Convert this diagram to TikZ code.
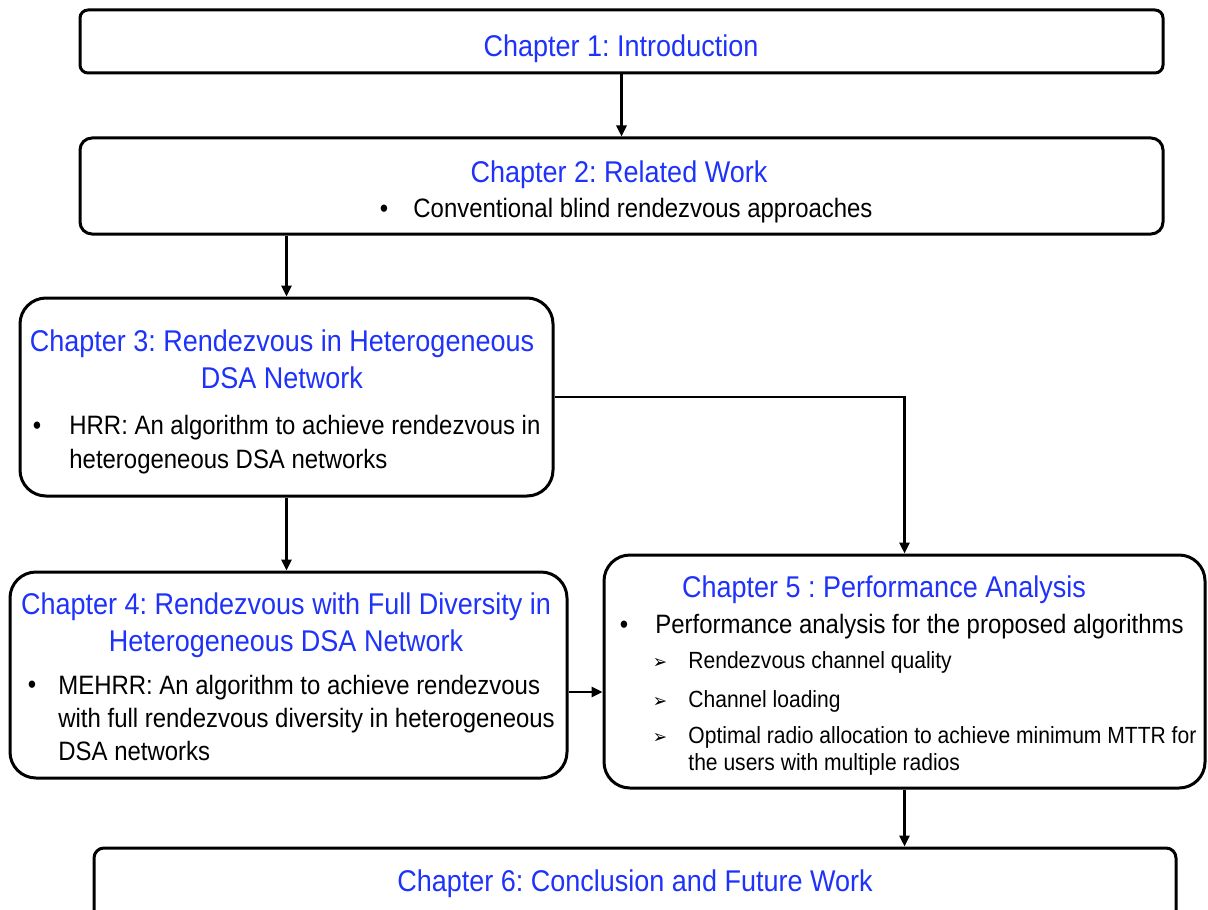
\documentclass[tikz,border=0pt]{standalone}
\usepackage{fontspec}
\setmainfont{Liberation Sans}[FakeStretch=0.9]
\newfontfamily\dingfont{DejaVu Sans}[FakeStretch=0.9]
\usetikzlibrary{arrows.meta}
\definecolor{chapblue}{RGB}{30,50,250}
\frenchspacing
\tikzset{
chapbox/.style={draw, line width=1.5pt, rounded corners=#1, inner sep=0pt},
chapbox/.default=13pt,
chaptitle/.style={text=chapblue, font=\fontsize{15pt}{18.5pt}\selectfont, align=center, inner sep=0pt, anchor=base},
bodytext/.style={font=\fontsize{13.3pt}{17pt}\selectfont, align=left, inner sep=0pt, anchor=base west},
subtext/.style={font=\fontsize{11.7pt}{13.5pt}\selectfont, align=left, inner sep=0pt, anchor=base west},
bulletmark/.style={font=\fontsize{13.3pt}{17pt}\selectfont, inner sep=0pt, anchor=base},
submark/.style={font=\dingfont\fontsize{9.5pt}{10pt}\selectfont, inner sep=0pt, anchor=base},
flow/.style={line width=1.3pt, -{Triangle[length=5.5pt,width=5pt]}}}

\begin{document}
\begin{tikzpicture}[x=0.5pt, y=-0.5pt]
    \useasboundingbox (0,0) rectangle (1208,909);

                \node[chapbox=4pt, minimum width=541.5pt, minimum height=31.5pt] (ch1) at (621.5,41.5) {};
                \node[chapbox=6pt, minimum width=541.5pt, minimum height=48pt] (ch2) at (621.5,186) {};
                \node[chapbox, minimum width=266.5pt, minimum height=99pt] (ch3) at (286.5,397) {};
                \node[chapbox, minimum width=278.5pt, minimum height=103pt] (ch4) at (288.5,675) {};
                \node[chapbox, minimum width=300.5pt, minimum height=116.5pt] (ch5) at (904.5,671.5) {};
                \node[chapbox=5pt, minimum width=541pt, minimum height=45pt] (ch6) at (635,893) {};

                \node[chaptitle] (t1) at (621,57) {Chapter 1: Introduction};

                \node[chaptitle] (t2) at (619,183) {Chapter 2: Related Work};
                \node[bulletmark] (b2) at (384,218) {•};
                \node[bodytext] (x2) at (413,218) {Conventional blind rendezvous approaches};

                \node[chaptitle] (t3) at (282,388) {Chapter 3: Rendezvous in Heterogeneous\\DSA Network};
                \node[bulletmark] (b3) at (37,434) {•};
                \node[bodytext] (x3) at (69,468) {HRR: An algorithm to achieve rendezvous in\\heterogeneous DSA networks};

                \node[chaptitle] (t4) at (286,651) {Chapter 4: Rendezvous with Full Diversity in\\Heterogeneous DSA Network};
                \node[bulletmark] (b4) at (32,693) {•};
                \node[bodytext, font=\fontsize{13.3pt}{16.5pt}\selectfont] (x4) at (58,760) {MEHRR: An algorithm to achieve rendezvous\\with full rendezvous diversity in heterogeneous\\DSA networks};

                \node[chaptitle] (t5) at (884,597) {Chapter 5 : Performance Analysis};
                \node[bulletmark] (b5) at (624,633) {•};
                \node[bodytext] (x5) at (655,633) {Performance analysis for the proposed algorithms};
                \node[submark] (m1) at (660,668) {➢};
                \node[subtext] (s1) at (688,668) {Rendezvous channel quality};
                \node[submark] (m2) at (660,707) {➢};
                \node[subtext] (s2) at (688,707) {Channel loading};
                \node[submark] (m3) at (660,743) {➢};
                \node[subtext] (s3) at (688,770) {Optimal radio allocation to achieve minimum MTTR for\\the users with multiple radios};

                \node[chaptitle] (t6) at (635,891) {Chapter 6: Conclusion and Future Work};

                \draw[flow] (ch1.south) -- (ch2.north);
                \draw[flow] (ch2.south -| ch3.north) -- (ch3.north);
                \draw[flow] (ch3.south) -- (ch3.south |- ch4.north);
                \draw[flow] (ch3.east) -| (ch5.north);
                \draw[flow] ([yshift=-8.5pt]ch4.east) -- ([yshift=-8.5pt]ch4.east -| ch5.west);
                \draw[flow] (ch5.south) -- (ch5.south |- ch6.north);

\end{tikzpicture}
\end{document}
